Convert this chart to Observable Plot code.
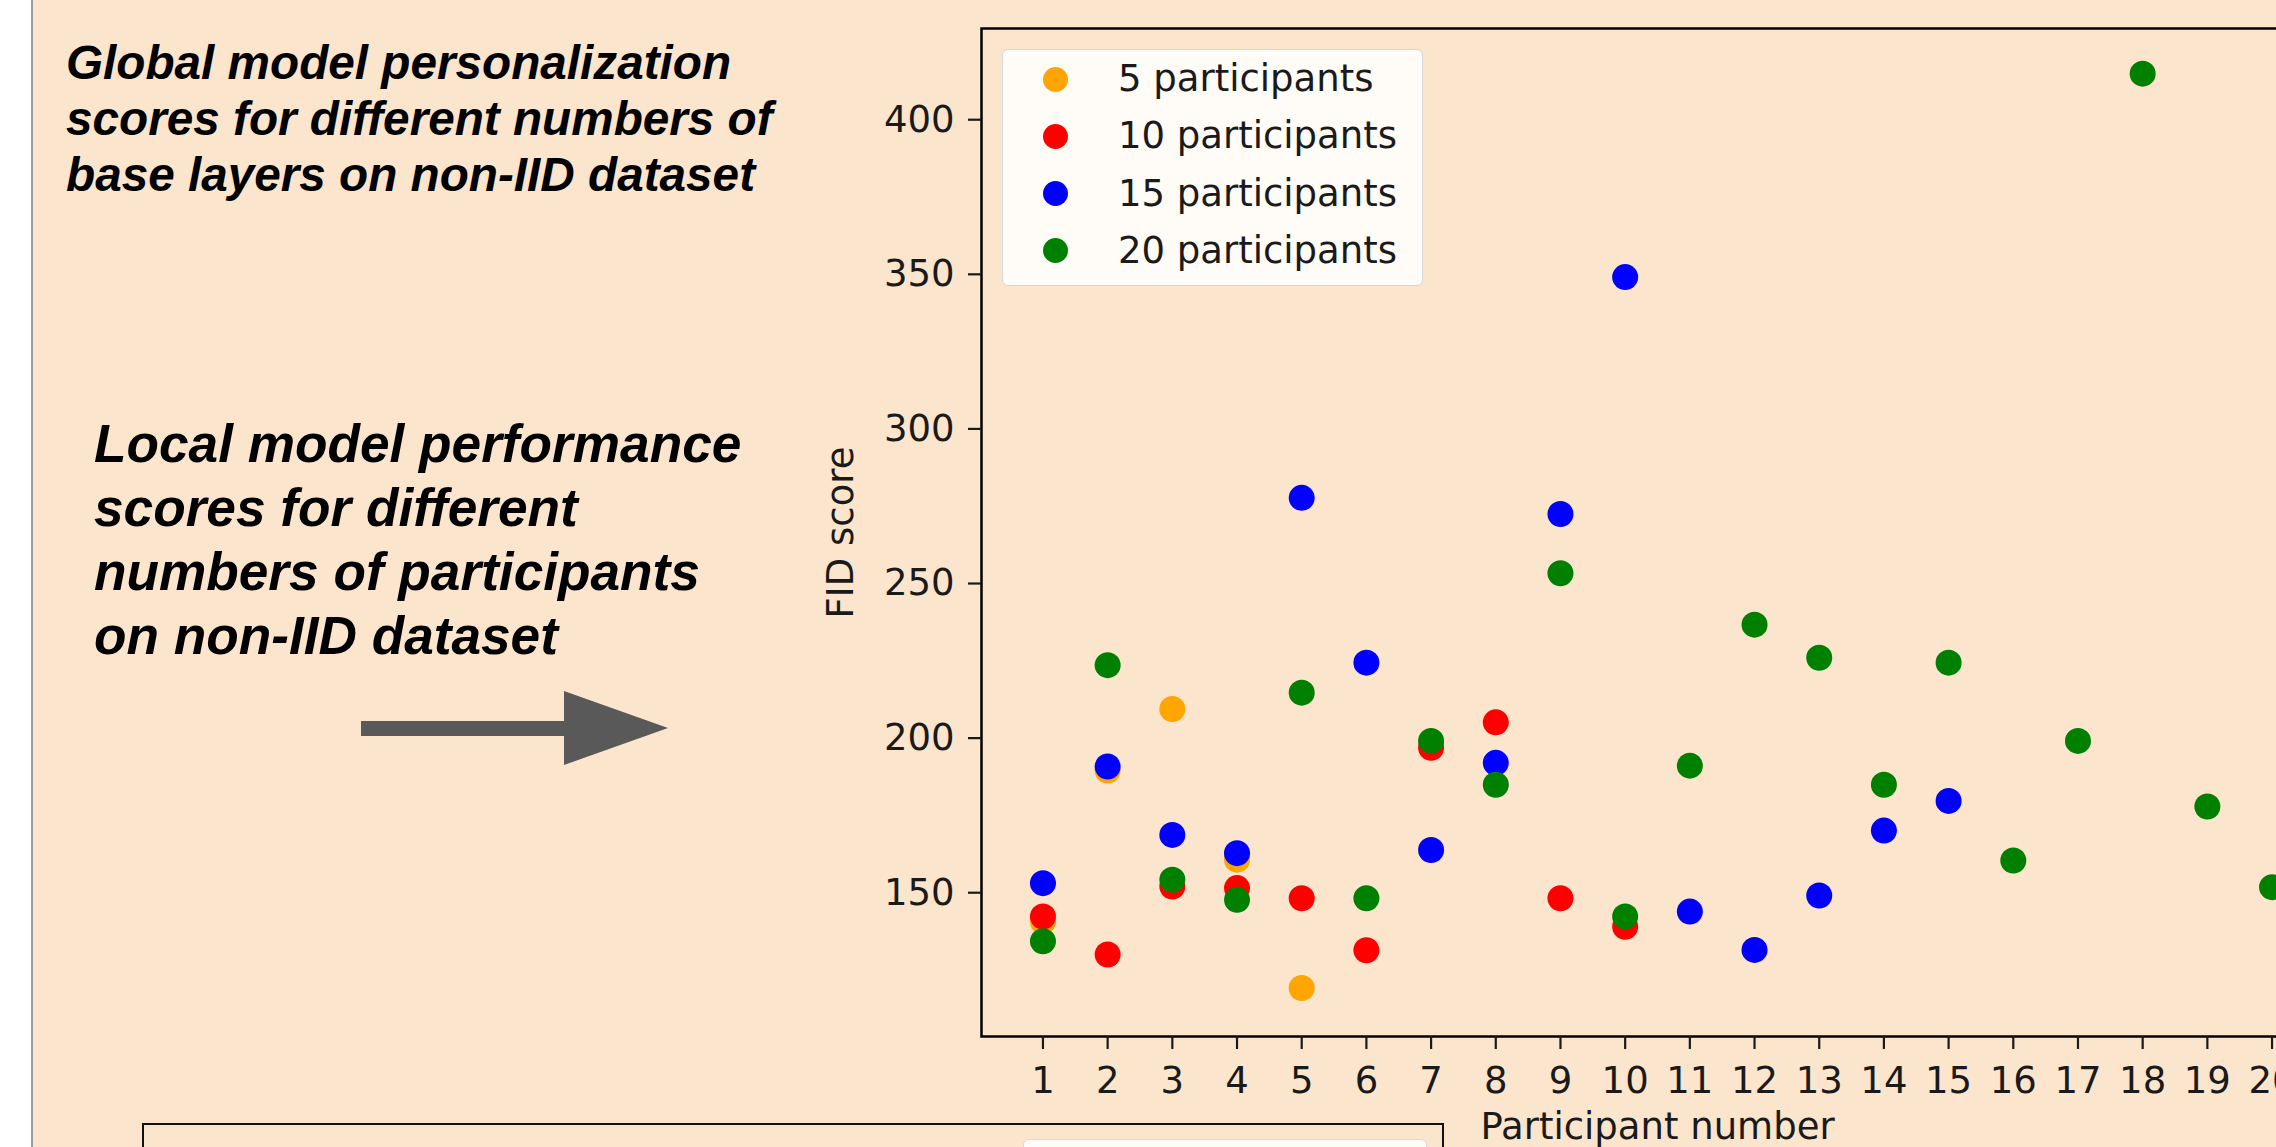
<!DOCTYPE html>
<html>
<head>
<meta charset="utf-8">
<script src="https://cdn.jsdelivr.net/npm/d3@7"></script>
<script src="https://cdn.jsdelivr.net/npm/@observablehq/plot@0.6"></script>
<style>
  html, body { margin: 0; padding: 0; }
  body { width: 2276px; height: 1147px; overflow: hidden; position: relative; background: #fce5cd; }
  #leftwhite { position: absolute; left: 0; top: 0; width: 31px; height: 1147px; background: #ffffff; }
  #leftline { position: absolute; left: 31px; top: 0; width: 2px; height: 1147px; background: #9a9a9a; }
  #chart { position: absolute; left: 0; top: 0; width: 2340px; height: 1147px; }
  #chart svg { max-width: none !important; width: 2340px; height: 1147px; }
  .note { position: absolute; font-family: "Liberation Sans", Arial, sans-serif; font-weight: bold; font-style: italic; color: #000; white-space: nowrap; }
  #note1 { left: 66px; top: 35px; font-size: 47.7px; line-height: 56px; }
  #note2 { left: 94px; top: 412px; font-size: 53.2px; line-height: 64px; }
  #arrow { position: absolute; left: 0; top: 0; }
  #legend { position: absolute; left: 1002px; top: 49px; width: 419px; height: 235px; background: rgba(255,255,255,0.82); border: 1.5px solid #d6d6d6; border-radius: 6px; font-family: "DejaVu Sans", sans-serif; font-size: 37px; color: #1a1a1a; }
  .lrow { position: absolute; left: 0; height: 50px; display: flex; align-items: center; }
  .lsw { position: absolute; left: 40px; width: 25px; height: 25px; border-radius: 50%; }
  .ltx { position: absolute; left: 115px; white-space: nowrap; line-height: 50px; }
  #bottombox { position: absolute; left: 142px; top: 1123px; width: 1298px; height: 100px; border: 2.5px solid #111; border-bottom: none; }
  #bottomlegend { position: absolute; left: 1023px; top: 1139px; width: 402px; height: 80px; background: rgba(255,255,255,0.82); border: 1.5px solid #d6dbe0; border-radius: 6px; }
</style>
</head>
<body>
<div id="leftwhite"></div>
<div id="leftline"></div>
<div id="chart"></div>
<div class="note" id="note1">Global model personalization<br>scores for different numbers of<br>base layers on non-IID dataset</div>
<div class="note" id="note2">Local model performance<br>scores for different<br>numbers of participants<br>on non-IID dataset</div>
<svg id="arrow" width="700" height="800">
  <polygon points="361,721 564,721 564,691 668,728 564,765 564,736 361,736" fill="#595959"/>
</svg>
<div id="legend"></div>
<div id="bottombox"></div>
<div id="bottomlegend"></div>
<script>
// ---- data ----
const participantNumbers = [1, 2, 3, 4, 5, 6, 7, 8, 9, 10, 11, 12, 13, 14, 15, 16, 17, 18, 19, 20];
const yTicks = [150, 200, 250, 300, 350, 400];
const seriesNames = ["5 participants", "10 participants", "15 participants", "20 participants"];
const seriesColors = ["orange", "red", "blue", "green"];
const fid5  = [140.7, 189.5, 209.4, 160.7, 119.2];
const fid10 = [142.3, 130.0, 152.0, 151.5, 148.2, 131.4, 196.9, 205.1, 148.2, 139.0];
const fid15 = [153.1, 190.8, 168.7, 162.8, 277.7, 224.4, 163.8, 192.0, 272.5, 349.1, 143.9, 131.5, 149.1, 170.1, 179.7];
const fid20 = [134.3, 223.6, 154.2, 147.7, 214.7, 148.2, 199.1, 184.9, 253.3, 142.3, 191.1, 236.7, 226.0, 184.9, 224.4, 160.4, 199.1, 414.9, 177.9, 151.8];

const allSeries = [fid5, fid10, fid15, fid20];
const rows = [];
allSeries.forEach((vals, si) => {
  vals.forEach((v, i) => rows.push({participant: participantNumbers[i], fid: v, series: seriesNames[si]}));
});

const chart = Plot.plot({
  width: 2340,
  height: 1147,
  marginLeft: 981,
  marginRight: 7,
  marginTop: 28,
  marginBottom: 111,
  style: {background: "transparent", fontFamily: "DejaVu Sans, sans-serif", fontSize: "37px", color: "#1a1a1a", maxWidth: "none"},
  x: {domain: [0.05, 20.95]},
  y: {domain: [103.5, 429.5]},
  color: {domain: seriesNames, range: seriesColors},
  marks: [
    Plot.frame({stroke: "#000", strokeWidth: 2.5}),
    Plot.dot(rows, {x: "participant", y: "fid", fill: "series", r: 13, stroke: null}),
    Plot.axisX({ticks: participantNumbers, tickFormat: d => String(d), tickSize: 13, tickPadding: 17, strokeWidth: 2.2,
      label: "Participant number", labelAnchor: "center", labelArrow: "none", labelOffset: 102}),
    Plot.axisY({ticks: yTicks, tickFormat: d => String(d), tickSize: 13, tickPadding: 14, strokeWidth: 2.2,
      label: "FID score", labelAnchor: "center", labelArrow: "none", labelOffset: 155})
  ]
});
document.getElementById("chart").appendChild(chart);

// legend
const legend = document.getElementById("legend");
seriesNames.forEach((name, i) => {
  const row = document.createElement("div");
  row.className = "lrow";
  row.style.top = (4 + i * 57.3) + "px";
  row.style.width = "100%";
  const sw = document.createElement("div");
  sw.className = "lsw";
  sw.style.background = seriesColors[i];
  const tx = document.createElement("div");
  tx.className = "ltx";
  tx.textContent = name;
  row.appendChild(sw);
  row.appendChild(tx);
  legend.appendChild(row);
});
</script>
</body>
</html>
